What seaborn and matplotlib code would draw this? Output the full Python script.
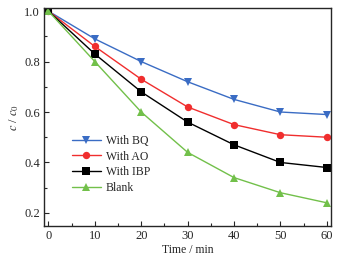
import seaborn as sns
import pandas as pd
import matplotlib.pyplot as plt
from matplotlib.ticker import MultipleLocator

time_min = [0, 10, 20, 30, 40, 50, 60]
with_bq = [1.0, 0.89, 0.80, 0.72, 0.65, 0.60, 0.59]
with_ao = [1.0, 0.86, 0.73, 0.62, 0.55, 0.51, 0.50]
with_ibp = [1.0, 0.83, 0.68, 0.56, 0.47, 0.40, 0.38]
blank = [1.0, 0.80, 0.60, 0.44, 0.34, 0.28, 0.24]

series = {"With BQ": with_bq, "With AO": with_ao, "With IBP": with_ibp, "Blank": blank}
palette = {"With BQ": "#3a6cc4", "With AO": "#f02e2e", "With IBP": "#000000", "Blank": "#72c04a"}
markers = {"With BQ": "v", "With AO": "o", "With IBP": "s", "Blank": "^"}

df = pd.DataFrame([
    {"time": t, "ratio": v, "group": name}
    for name, vals in series.items() for t, v in zip(time_min, vals)
])

sns.set_style("ticks")
plt.rcParams['font.family'] = ['Liberation Serif', 'DejaVu Serif']
plt.rcParams['mathtext.fontset'] = 'stix'

fig = plt.figure(figsize=(3.45, 2.61), dpi=100)
ax = fig.add_axes([0.1275, 0.134, 0.832, 0.835])

sns.lineplot(data=df, x="time", y="ratio", hue="group", style="group",
             markers=markers, dashes=False, palette=palette,
             hue_order=list(series), style_order=list(series),
             linewidth=1.0, markersize=5.3, markeredgewidth=0, ax=ax)

ax.set_xlim(-0.95, 60.9)
ax.set_ylim(0.148, 1.012)
ax.xaxis.set_major_locator(MultipleLocator(10))
ax.xaxis.set_minor_locator(MultipleLocator(5))
ax.yaxis.set_major_locator(MultipleLocator(0.2))
ax.yaxis.set_minor_locator(MultipleLocator(0.1))
ax.yaxis.set_major_formatter(plt.FuncFormatter(lambda v, p: f"{v:.1f}"))
ax.tick_params(which="both", direction="in", labelsize=9, width=0.8, pad=3)
ax.tick_params(which="major", length=3.5)
ax.tick_params(which="minor", length=2)
for s in ax.spines.values():
    s.set_linewidth(1.0)
    s.set_visible(True)

ax.set_xlabel("Time / min", fontsize=8.5, labelpad=1)
ax.set_ylabel(r"$c$ / $c_0$", fontsize=9, labelpad=2)

ax.legend(loc="lower left", bbox_to_anchor=(0.08, 0.125), frameon=False,
          fontsize=8.5, handlelength=2.5, handletextpad=0.4, labelspacing=0.32,
          borderaxespad=0)

fig.savefig("out.png", dpi=100)
